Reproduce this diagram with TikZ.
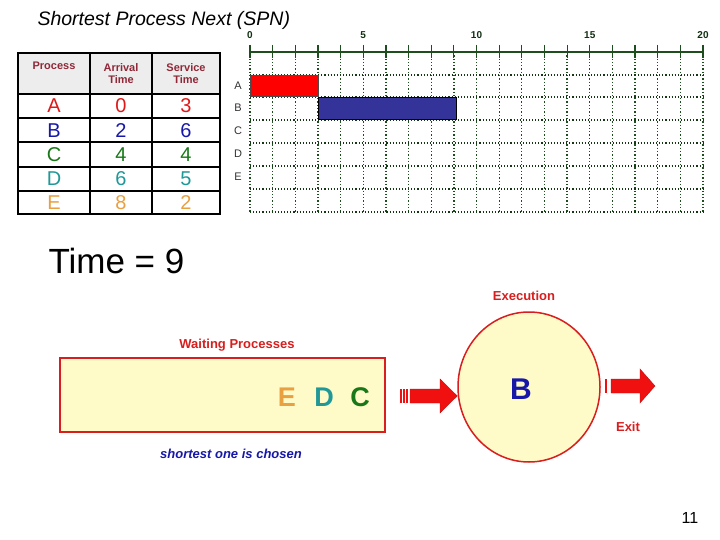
\documentclass[tikz,border=0pt]{standalone}
\usepackage{fontspec}
\setmainfont{Liberation Sans}
\usetikzlibrary{shapes.geometric}
\definecolor{cA}{HTML}{E01818}
\definecolor{cB}{HTML}{1818A8}
\definecolor{cC}{HTML}{187818}
\definecolor{cD}{HTML}{209898}
\definecolor{cE}{HTML}{E8A040}
\definecolor{hdr}{HTML}{902838}
\definecolor{grid}{HTML}{1E4E1E}
\definecolor{barB}{HTML}{333399}
\definecolor{redd}{HTML}{D81E1E}
\definecolor{cream}{HTML}{FFFBC8}
\definecolor{arr}{HTML}{F01010}
\tikzset{
  hdrtxt/.style={font=\fontsize{11}{12}\selectfont\bfseries, text=hdr, align=center},
  celltxt/.style={font=\fontsize{20}{20}\selectfont},
  axlbl/.style={font=\fontsize{10}{10}\selectfont\bfseries, text=grid!60!black},
  rowlbl/.style={font=\fontsize{11}{11}\selectfont, text=black!80},
  redlbl/.style={font=\fontsize{13}{13}\selectfont\bfseries, text=redd},
  blockarrow/.style={fill=arr, draw=redd!80!black, line width=0.4pt}
}
\begin{document}
\begin{tikzpicture}[x=1pt,y=-1pt]
\useasboundingbox (0,0) rectangle (720,540);
\fill[white] (0,0) rectangle (720,540);
% title
\node[font=\fontsize{19.5}{20}\selectfont\itshape, anchor=west] (title) at (34,20) {Shortest Process Next (SPN)};
% table
\fill[black!7] (18,53) rectangle (220,94);
\foreach \y in {94,118,142,167,191} \draw[line width=1.2pt] (18,\y) -- (220,\y);
\foreach \x in {90,152} \draw[line width=1.2pt] (\x,53) -- (\x,214);
\draw[line width=1.5pt] (18,53) rectangle (220,214);
\node[hdrtxt] (h1) at (54,66) {Process};
\node[hdrtxt] (h2) at (121,74) {Arrival\\Time};
\node[hdrtxt] (h3) at (186,74) {Service\\Time};
\foreach \p/\a/\s/\c [count=\i] in {A/0/3/cA,B/2/6/cB,C/4/4/cC,D/6/5/cD,E/8/2/cE}{
  \pgfmathsetmacro{\yy}{94+(\i-0.5)*24.2}
  \node[celltxt,text=\c] (p\i) at (54,\yy) {\p};
  \node[celltxt,text=\c] (a\i) at (121,\yy) {\a};
  \node[celltxt,text=\c] (s\i) at (186,\yy) {\s};
}
% chart grid
\foreach \k in {0,...,20}{
  \pgfmathsetmacro{\xx}{250+\k*22.65}
  \draw[grid, dotted, line width=1.3pt] (\xx,52) -- (\xx,212);
  \draw[grid, line width=1.2pt] (\xx,45) -- (\xx,58);
}
\foreach \y in {75,97,120,143,166,189,212}
  \draw[grid!70!black, dotted, line width=1.1pt] (250,\y) -- (703,\y);
\draw[grid, line width=1.4pt] (250,52) -- (703,52);
\foreach \k in {0,5,10,15,20}
  \node[axlbl] (t\k) at ({250+\k*22.65},35) {\k};
\foreach \r/\y in {A/86,B/108,C/131,D/154,E/177}
  \node[rowlbl] (r\r) at (238,\y) {\r};
\draw[fill=red, draw=black!70] (250,75) rectangle (318,96);
\draw[fill=barB, draw=black] (318,97) rectangle (456,119);
% time
\node[font=\fontsize{35}{35}\selectfont, anchor=west] (time) at (45,261) {Time = 9};
% waiting box
\node[draw=redd, line width=2pt, fill=cream, minimum width=325, minimum height=74, inner sep=0] (wait) at (222.5,395) {};
\node[redlbl] (waitl) at (237,345) {Waiting Processes};
\node[font=\fontsize{27}{27}\selectfont\bfseries, text=cE] (qE) at (287,397) {E};
\node[font=\fontsize{27}{27}\selectfont\bfseries, text=cD] (qD) at (324,397) {D};
\node[font=\fontsize{27}{27}\selectfont\bfseries, text=cC] (qC) at (360,397) {C};
\node[font=\fontsize{13}{13}\selectfont\bfseries\itshape, text=cB] (note) at (231,454) {shortest one is chosen};
% execution
\node[ellipse, draw=redd, line width=1.5pt, fill=cream, minimum width=142, minimum height=150, inner sep=0] (exe) at (529,387) {};
\node[redlbl] (exel) at (524,296) {Execution};
\node[font=\fontsize{30}{30}\selectfont\bfseries, text=cB] (run) at (521,389) {B};
\node[redlbl] (exit) at (628,427) {Exit};
% arrow 1
\foreach \x in {400,403,406} \fill[arr] (\x,389) rectangle +(1.5,14);
\fill[blockarrow] (410,389) -- (440,389) -- (440,379) -- (exe.west |- 0,396) -- (440,413) -- (440,403) -- (410,403) -- cycle;
% arrow 2
\fill[arr] (605,379) rectangle +(2,14);
\fill[blockarrow] (611,379) -- (640,379) -- (640,369) -- (655,386) -- (640,403) -- (640,393) -- (611,393) -- cycle;
% page number
\node[font=\fontsize{16}{16}\selectfont] (pg) at (690,518) {11};
\end{tikzpicture}
\end{document}
